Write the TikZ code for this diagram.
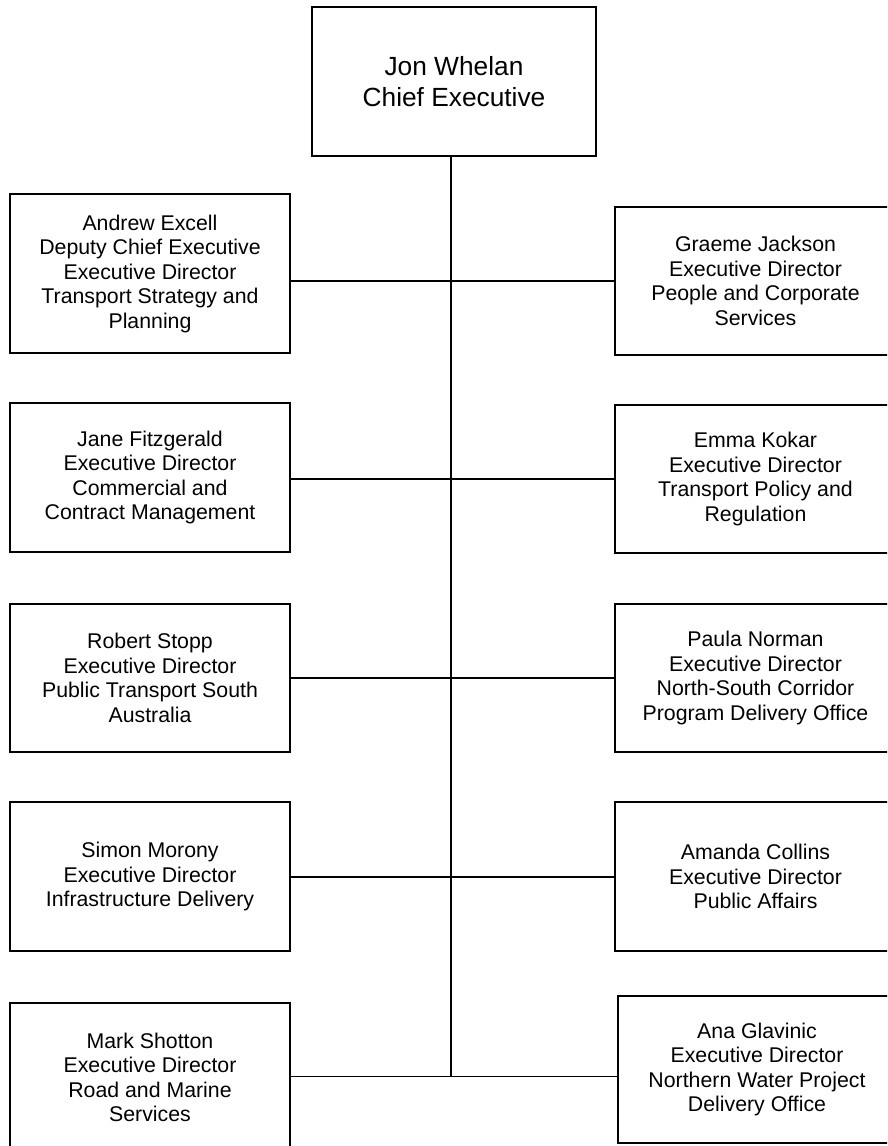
\documentclass[tikz,border=0pt]{standalone}
\usepackage{fontspec}
\setmainfont{Liberation Sans}
\begin{document}
\begin{tikzpicture}[x=1pt,y=-1pt,
  box/.style={draw, line width=2pt, align=center, inner sep=0pt,
    font=\fontsize{21.3}{24.5}\selectfont},
  lbox/.style={box, minimum width=280pt},
  rbox/.style={box, minimum width=281pt},
  topbox/.style={draw, line width=2pt, align=center, inner sep=0pt,
    minimum width=284pt, minimum height=149pt,
    font=\fontsize{26.3}{31.7}\selectfont},
  link/.style={line width=2pt},
  thinlink/.style={line width=1.2pt}]
\useasboundingbox (0,0) rectangle (887,1146);
\begin{scope}
\clip (0,0) rectangle (887,1146);
\fill[white] (0,0) rectangle (887,1146);

\node[topbox] (ceo) at (454,81.5) {Jon Whelan\\Chief Executive};

\node[lbox, minimum height=159pt] (L1) at (150,273.5)
  {Andrew Excell\\Deputy Chief Executive\\Executive Director\\Transport Strategy and\\Planning};
\node[rbox, minimum height=148pt] (R1) at (755.5,281)
  {Graeme Jackson\\Executive Director\\People and Corporate\\Services};

\node[lbox, minimum height=149pt] (L2) at (150,477.5)
  {Jane Fitzgerald\\Executive Director\\Commercial and\\Contract Management};
\node[rbox, minimum height=148pt] (R2) at (755.5,479)
  {Emma Kokar\\Executive Director\\Transport Policy and\\Regulation};

\node[lbox, minimum height=148pt] (L3) at (150,678)
  {Robert Stopp\\Executive Director\\Public Transport South\\Australia};
\node[rbox, minimum height=148pt] (R3) at (755.5,678)
  {Paula Norman\\Executive Director\\North-South Corridor\\Program Delivery Office};

\node[lbox, minimum height=149pt] (L4) at (150,876.5)
  {Simon Morony\\Executive Director\\Infrastructure Delivery};
\node[rbox, minimum height=149pt] (R4) at (755.5,876.5)
  {Amanda Collins\\Executive Director\\Public Affairs};

\node[lbox, minimum height=149pt] (L5) at (150,1077.5)
  {Mark Shotton\\Executive Director\\Road and Marine\\Services};
\node[box, minimum width=278pt, minimum height=147pt] (R5) at (757,1069.5)
  {Ana Glavinic\\Executive Director\\Northern Water Project\\Delivery Office};

\coordinate (j5) at (451,1076.5);

\draw[link] (ceo.south -| j5) -- (j5);
\draw[link] (L1.east |- R1.west) -- (R1.west);
\draw[link] (L2.east |- R2.west) -- (R2.west);
\draw[link] (L3.east |- R3.west) -- (R3.west);
\draw[link] (L4.east |- R4.west) -- (R4.west);
\draw[thinlink] (L5.east |- j5) -- (j5) -- (j5 -| R5.west);
\end{scope}
\end{tikzpicture}
\end{document}
